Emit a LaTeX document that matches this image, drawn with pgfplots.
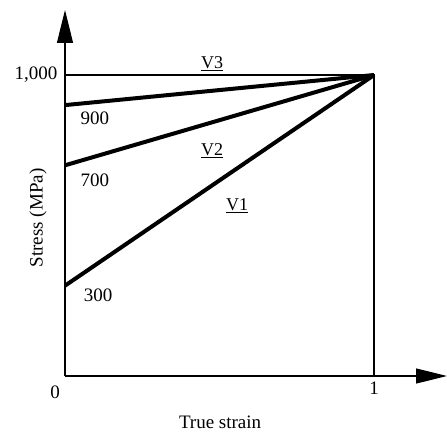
\documentclass[border=0pt]{standalone}
\usepackage{pgfplots}
\pgfplotsset{compat=1.18}
\usepackage{fontspec}
\setmainfont{Liberation Serif}
\usetikzlibrary{arrows.meta}

\newcommand{\lbl}{\fontsize{19bp}{22bp}\selectfont}
\newcommand{\vlbl}{\fontsize{18bp}{21bp}\selectfont}

\begin{document}
\begin{tikzpicture}
\begin{axis}[
  at={(0,0)}, anchor=origin,
  scale only axis,
  width=382bp, height=366bp,
  xmin=0, xmax=1.236,
  ymin=0, ymax=1216,
  axis x line=bottom, axis y line=left,
  axis line style={line width=1.2bp},
  x axis line style={-{Triangle[length=31bp,width=15bp]}},
  y axis line style={-{Triangle[length=33bp,width=16bp]}},
  xtick={1}, ytick={1000},
  xticklabel={1},
  yticklabel={1{,}000},
  major tick length=0pt,
  ticklabel style={font=\lbl},
  xticklabel style={yshift=-2bp},
  yticklabel style={xshift=-4bp},
  clip=false,
]
% yield envelope: 1,000 MPa cap and the unit-strain limit
\addplot[black, line width=1.3bp] coordinates {(0,1000) (1,1000) (1,0)};
% hardening paths from three initial yield stresses
\addplot[black, line width=4bp] coordinates {(0,900) (1,1000)};
\addplot[black, line width=4bp] coordinates {(0,700) (1,1000)};
\addplot[black, line width=4bp] coordinates {(0,300) (1,1000)};

\node[anchor=base, font=\vlbl] at (axis cs:0.476,1023) {\underline{V3}};
\node[anchor=base, font=\vlbl] at (axis cs:0.476,734) {\underline{V2}};
\node[anchor=base, font=\vlbl] at (axis cs:0.557,551) {\underline{V1}};
\node[anchor=base, font=\lbl] at (axis cs:0.097,834) {900};
\node[anchor=base, font=\lbl] at (axis cs:0.097,628) {700};
\node[anchor=base, font=\lbl] at (axis cs:0.107,246) {300};
\node[anchor=center, font=\lbl] at (axis cs:-0.032,-53) {0};
% axis titles
\node[anchor=base, font=\lbl] at (rel axis cs:0.406,-0.1447) {True strain};
\node[anchor=center, inner sep=0pt, font=\lbl] at (rel axis cs:-0.0707,0.432) {\rotatebox{90}{Stress (MPa)}};
\end{axis}
\pgfresetboundingbox
\path (-65bp,-58bp) rectangle (382bp,376bp);
\end{tikzpicture}
\end{document}
